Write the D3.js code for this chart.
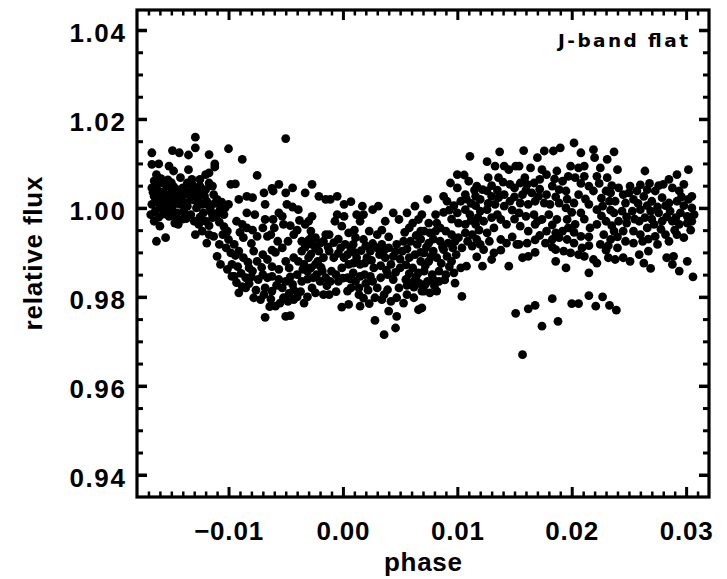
<!DOCTYPE html>
<html><head><meta charset="utf-8">
<script src="https://cdn.jsdelivr.net/npm/d3@7"></script>
<style>html,body{margin:0;padding:0;background:#fff;} svg{display:block;}</style>
</head><body>
<svg id="c" width="727" height="579"></svg>
<script>
// ---- chart text / ticks ----
const xTickValues = [-0.01, 0.00, 0.01, 0.02, 0.03];
const xTickLabels = ["\u22120.01", "0.00", "0.01", "0.02", "0.03"];
const yTickValues = [0.94, 0.96, 0.98, 1.00, 1.02, 1.04];
const yTickLabels = ["0.94", "0.96", "0.98", "1.00", "1.02", "1.04"];
const xDomain = [-0.018, 0.032];
const yDomain = [0.935, 1.0445];
const xTitle = "phase";
const yTitle = "relative flux";
const panelLabel = "J-band flat";

// ---- data: [phase, relative flux] ----
const ptsPre = [
[-0.0129,1.0159],[-0.0167,1.0124],[-0.0149,1.0129],[-0.0143,1.0124],[-0.0135,1.0119],[-0.0129,1.0135],[-0.0117,1.0120],[-0.0100,1.0133],
[-0.0167,1.0098],[-0.0161,1.0099],[-0.0152,1.0094],[-0.0148,1.0083],[-0.0135,1.0086],[-0.0112,1.0099],[-0.0112,1.0092],[-0.0163,1.0075],
[-0.0142,1.0068],[-0.0132,1.0064],[-0.0125,1.0064],[-0.0120,1.0075],[-0.0117,1.0079],[-0.0098,1.0053],[-0.0167,1.0045],[-0.0163,1.0053],
[-0.0158,1.0056],[-0.0154,1.0049],[-0.0149,1.0038],[-0.0145,1.0041],[-0.0139,1.0030],[-0.0165,1.0026],[-0.0160,1.0030],[-0.0155,1.0023],
[-0.0151,1.0015],[-0.0147,1.0023],[-0.0142,1.0008],[-0.0136,1.0004],[-0.0167,1.0008],[-0.0164,0.9993],[-0.0160,1.0000],[-0.0154,0.9996],
[-0.0149,1.0004],[-0.0145,0.9989],[-0.0139,0.9993],[-0.0133,1.0026],[-0.0129,1.0038],[-0.0125,1.0049],[-0.0120,1.0041],[-0.0117,1.0056],
[-0.0114,1.0049],[-0.0113,1.0030],[-0.0119,1.0015],[-0.0123,1.0008],[-0.0128,1.0000],[-0.0122,0.9989],[-0.0116,1.0000],[-0.0110,1.0019],
[-0.0107,1.0004],[-0.0103,1.0000],[-0.0100,1.0008],[-0.0110,0.9985],[-0.0114,0.9978],[-0.0120,0.9970],[-0.0126,0.9963],[-0.0130,0.9970],
[-0.0123,0.9948],[-0.0117,0.9940],[-0.0113,0.9936],[-0.0129,0.9940],[-0.0119,0.9921],[-0.0101,0.9948],[-0.0100,0.9929],[-0.0098,0.9899],
[-0.0097,0.9873],[-0.0110,0.9891],[-0.0107,0.9873],[-0.0097,0.9846],[-0.0160,0.9959],[-0.0163,0.9925],[-0.0155,0.9933],[-0.0152,0.9981],
[-0.0147,0.9966],[-0.0144,0.9963],
[-0.0166,1.0035],[-0.0162,1.0040],[-0.0157,1.0036],[-0.0152,1.0030],[-0.0158,1.0016],[-0.0163,1.0014],[-0.0156,1.0008],[-0.0152,1.0003],
[-0.0146,1.0010],[-0.0141,1.0018],[-0.0137,1.0012],[-0.0144,1.0031],[-0.0148,1.0048],[-0.0153,1.0063],[-0.0159,1.0066],[-0.0165,1.0061],
[-0.0150,1.0057],[-0.0140,1.0045],[-0.0135,1.0037],[-0.0131,1.0018],[-0.0126,1.0024],[-0.0121,1.0027],[-0.0124,1.0040],[-0.0131,1.0050],
[-0.0136,1.0056],[-0.0127,1.0014],[-0.0118,1.0007],[-0.0112,1.0010],[-0.0106,1.0013],[-0.0108,0.9993],[-0.0104,0.9985],[-0.0115,0.9990],
[-0.0125,0.9979],[-0.0133,0.9985],[-0.0137,0.9976],[-0.0117,0.9960],[-0.0108,0.9968],[-0.0104,0.9958],[-0.0168,0.9985],[-0.0161,0.9979],
[-0.0157,0.9986],[-0.0150,0.9988],[-0.0146,0.9979],[-0.0165,0.9970],[-0.0140,0.9975],[-0.0105,0.9940],[-0.0108,0.9918],[-0.0102,0.9910],
[-0.0094,0.9893],[-0.0101,0.9862]
];
const ptsIngress = [
[-0.0050,1.0156],[-0.0088,1.0109],[-0.0075,1.0073],[-0.0094,1.0054],[-0.0056,1.0053],[-0.0062,1.0044],[-0.0061,1.0038],[-0.0044,1.0045],
[-0.0027,1.0053],[-0.0050,1.0034],[-0.0069,1.0034],[-0.0084,1.0026],[-0.0079,1.0023],[-0.0091,1.0019],[-0.0033,1.0034],[-0.0021,1.0026],
[-0.0015,1.0019],[-0.0068,1.0008],[-0.0049,1.0008],[-0.0044,1.0002],[-0.0039,0.9996],[-0.0084,0.9989],[-0.0077,0.9985],[-0.0056,0.9989],
[-0.0053,0.9981],[-0.0068,0.9974],[-0.0061,0.9974],[-0.0027,0.9981],[-0.0030,0.9970],[-0.0093,0.9970],[-0.0088,0.9963],[-0.0084,0.9955],
[-0.0052,0.9963],[-0.0043,0.9940],[-0.0033,0.9963],[-0.0028,0.9948],[-0.0024,0.9933],[-0.0020,0.9921],[-0.0027,0.9918],[-0.0031,0.9925],
[-0.0036,0.9903],[-0.0030,0.9888],[-0.0024,0.9873],[-0.0018,0.9858],[-0.0026,0.9843],[-0.0031,0.9858],[-0.0015,0.9940],[-0.0087,0.9933],
[-0.0075,0.9936],[-0.0066,0.9936],[-0.0063,0.9940],[-0.0095,0.9918],[-0.0091,0.9903],[-0.0078,0.9903],[-0.0059,0.9900],[-0.0066,0.9884],
[-0.0075,0.9880],[-0.0087,0.9888],[-0.0082,0.9865],[-0.0079,0.9858],[-0.0050,0.9880],[-0.0047,0.9865],[-0.0043,0.9888],[-0.0095,0.9846],
[-0.0085,0.9843],[-0.0074,0.9839],[-0.0066,0.9843],[-0.0062,0.9846],[-0.0056,0.9839],[-0.0050,0.9835],[-0.0053,0.9820],[-0.0068,0.9820],
[-0.0062,0.9813],[-0.0069,0.9805],[-0.0044,0.9828],[-0.0043,0.9816],[-0.0036,0.9835],[-0.0027,0.9820],[-0.0024,0.9809],[-0.0091,0.9809],
[-0.0085,0.9820],[-0.0078,0.9798],[-0.0072,0.9794],[-0.0052,0.9798],[-0.0043,0.9794],[-0.0059,0.9779],[-0.0055,0.9786],[-0.0034,0.9786],
[-0.0017,0.9805],[-0.0068,0.9754],[-0.0050,0.9756],[-0.0046,0.9758],[-0.0021,0.9903],[-0.0017,0.9888],[-0.0023,0.9850],[-0.0015,0.9843],
[-0.0034,0.9873],
[-0.0040,0.9950],[-0.0036,0.9925],[-0.0033,0.9912],[-0.0039,0.9880],[-0.0035,0.9862],[-0.0028,0.9896],[-0.0022,0.9880],[-0.0019,0.9866],
[-0.0028,0.9865],[-0.0031,0.9840],[-0.0020,0.9835],[-0.0014,0.9825],[-0.0029,0.9930],[-0.0017,0.9925],[-0.0013,0.9912],[-0.0024,0.9910],
[-0.0040,0.9850],[-0.0046,0.9845],[-0.0056,0.9862],[-0.0062,0.9868],[-0.0071,0.9866],[-0.0070,0.9850],[-0.0080,0.9845],[-0.0089,0.9853],
[-0.0092,0.9868],[-0.0083,0.9878],[-0.0070,0.9895],[-0.0062,0.9905],[-0.0053,0.9910],[-0.0048,0.9925],[-0.0057,0.9925],[-0.0080,0.9920],
[-0.0090,0.9945],[-0.0079,0.9950],[-0.0070,0.9955],[-0.0060,0.9955],[-0.0046,0.9960],[-0.0038,0.9972],[-0.0058,0.9826],[-0.0047,0.9808],
[-0.0037,0.9812],[-0.0031,0.9800],[-0.0063,0.9795],[-0.0082,0.9830],[-0.0088,0.9823],[-0.0093,0.9832],[-0.0076,0.9815],[-0.0048,0.9790],
[-0.0064,0.9778],[-0.0040,0.9800]
];
const ptsMid = [
[-0.0011,1.0019],[-0.0005,1.0026],[0.0001,1.0008],[0.0007,1.0014],[-0.0005,0.9985],[0.0001,0.9981],[-0.0007,0.9970],[-0.0001,0.9959],
[0.0017,1.0004],[0.0012,0.9985],[0.0018,0.9985],[0.0026,0.9996],[0.0031,1.0004],[0.0015,0.9970],[0.0037,0.9970],[0.0044,0.9989],
[0.0049,0.9974],[0.0056,0.9989],[0.0063,1.0004],[0.0061,0.9966],[0.0066,0.9974],[-0.0012,0.9940],[0.0005,0.9944],[0.0011,0.9933],
[0.0023,0.9948],[0.0018,0.9929],[0.0068,0.9948],[-0.0012,0.9903],[-0.0008,0.9888],[-0.0010,0.9858],[-0.0011,0.9835],[-0.0002,0.9910],
[0.0002,0.9918],[0.0007,0.9906],[0.0001,0.9888],[-0.0001,0.9865],[0.0005,0.9873],[0.0009,0.9854],[-0.0004,0.9835],[0.0004,0.9843],
[0.0011,0.9835],[0.0015,0.9846],[0.0012,0.9888],[0.0015,0.9873],[0.0021,0.9888],[0.0024,0.9903],[0.0030,0.9910],[0.0034,0.9918],
[0.0040,0.9910],[0.0027,0.9865],[0.0024,0.9846],[0.0037,0.9888],[0.0042,0.9873],[0.0044,0.9891],[0.0047,0.9918],[0.0053,0.9925],
[0.0059,0.9925],[0.0065,0.9918],[0.0052,0.9903],[0.0058,0.9888],[0.0063,0.9895],[0.0068,0.9880],[0.0050,0.9865],[0.0061,0.9865],
[0.0066,0.9854],[0.0033,0.9843],[0.0039,0.9850],[0.0044,0.9839],[0.0055,0.9839],[0.0062,0.9835],[0.0030,0.9820],[0.0039,0.9816],
[0.0049,0.9820],[0.0007,0.9820],[0.0004,0.9813],[-0.0012,0.9805],[0.0028,0.9798],[0.0034,0.9794],[0.0042,0.9790],[0.0047,0.9798],
[0.0053,0.9786],[0.0062,0.9798],[0.0069,0.9813],[-0.0001,0.9777],[0.0005,0.9783],[0.0015,0.9779],[0.0023,0.9785],[0.0040,0.9768],
[0.0047,0.9756],[0.0066,0.9771],[0.0028,0.9747],[0.0046,0.9730],[0.0036,0.9715],
[-0.0008,0.9922],[-0.0004,0.9898],[0.0004,0.9895],[0.0010,0.9900],[0.0016,0.9904],[0.0020,0.9915],[0.0026,0.9920],[0.0009,0.9876],
[0.0019,0.9876],[0.0025,0.9882],[0.0032,0.9895],[0.0036,0.9905],[0.0046,0.9902],[0.0050,0.9885],[0.0055,0.9872],[0.0033,0.9870],
[0.0038,0.9860],[0.0046,0.9855],[0.0058,0.9852],[0.0064,0.9845],[-0.0006,0.9850],[0.0000,0.9842],[0.0007,0.9840],[0.0019,0.9850],
[0.0020,0.9830],[0.0026,0.9835],[0.0014,0.9820],[0.0022,0.9815],[0.0056,0.9826],[0.0062,0.9822],[0.0067,0.9830],[0.0068,0.9900],
[0.0056,0.9908],[0.0068,0.9930],[0.0064,0.9938],[0.0040,0.9935],[0.0030,0.9940],[-0.0004,0.9930],[0.0009,0.9918],[0.0014,0.9805],
[0.0018,0.9797],[0.0056,0.9805],[0.0036,0.9805],[-0.0006,0.9812],[0.0010,0.9950],[0.0034,0.9950],[0.0054,0.9945],[0.0058,0.9955]
];
const ptsEgress = [
[0.0111,1.0116],[0.0137,1.0126],[0.0126,1.0104],[0.0133,1.0094],[0.0141,1.0094],[0.0145,1.0086],[0.0151,1.0094],[0.0100,1.0075],
[0.0106,1.0074],[0.0094,1.0056],[0.0127,1.0068],[0.0136,1.0068],[0.0146,1.0053],[0.0117,1.0049],[0.0122,1.0041],[0.0126,1.0038],
[0.0107,1.0030],[0.0074,1.0019],[0.0088,1.0026],[0.0091,1.0015],[0.0103,1.0015],[0.0116,1.0026],[0.0120,1.0019],[0.0130,1.0026],
[0.0136,1.0023],[0.0141,1.0030],[0.0146,1.0015],[0.0133,1.0008],[0.0141,1.0004],[0.0081,0.9985],[0.0069,0.9985],[0.0100,0.9989],
[0.0107,0.9996],[0.0111,0.9985],[0.0120,0.9993],[0.0126,0.9996],[0.0130,0.9978],[0.0138,0.9974],[0.0143,0.9963],[0.0075,0.9966],
[0.0082,0.9966],[0.0101,0.9966],[0.0107,0.9963],[0.0116,0.9963],[0.0123,0.9970],[0.0071,0.9948],[0.0076,0.9944],[0.0081,0.9948],
[0.0090,0.9948],[0.0095,0.9940],[0.0101,0.9933],[0.0107,0.9944],[0.0113,0.9940],[0.0117,0.9929],[0.0126,0.9944],[0.0138,0.9929],
[0.0143,0.9921],[0.0152,0.9918],[0.0075,0.9921],[0.0085,0.9925],[0.0092,0.9921],[0.0098,0.9925],[0.0104,0.9910],[0.0113,0.9914],
[0.0123,0.9906],[0.0132,0.9899],[0.0071,0.9899],[0.0079,0.9903],[0.0088,0.9906],[0.0075,0.9880],[0.0082,0.9888],[0.0091,0.9891],
[0.0095,0.9880],[0.0103,0.9865],[0.0108,0.9869],[0.0122,0.9869],[0.0130,0.9884],[0.0145,0.9869],[0.0071,0.9858],[0.0078,0.9850],
[0.0084,0.9858],[0.0090,0.9850],[0.0097,0.9854],[0.0098,0.9831],[0.0074,0.9835],[0.0079,0.9839],[0.0084,0.9835],[0.0071,0.9813],
[0.0076,0.9809],[0.0082,0.9813],[0.0104,0.9801],[0.0069,0.9775],
[0.0100,1.0045],[0.0110,1.0060],[0.0115,1.0040],[0.0130,1.0050],[0.0135,1.0040],[0.0140,1.0058],[0.0150,1.0045],[0.0150,1.0025],
[0.0112,1.0010],[0.0108,1.0020],[0.0116,1.0005],[0.0127,1.0010],[0.0097,1.0005],[0.0093,0.9995],[0.0088,0.9990],[0.0095,0.9975],
[0.0112,0.9972],[0.0118,0.9978],[0.0135,0.9985],[0.0148,0.9995],[0.0150,0.9975],[0.0132,0.9955],[0.0119,0.9950],[0.0085,0.9955],
[0.0079,0.9930],[0.0087,0.9912],[0.0096,0.9910],[0.0109,0.9925],[0.0120,0.9918],[0.0128,0.9925],[0.0073,0.9912],[0.0077,0.9890],
[0.0086,0.9875],[0.0093,0.9868],[0.0099,0.9895],[0.0072,0.9870],[0.0080,0.9825],[0.0089,0.9838],[0.0072,0.9828],[0.0117,0.9890],
[0.0138,0.9905],[0.0148,0.9935]
];
const ptsPost = [
[0.0202,1.0146],[0.0158,1.0129],[0.0176,1.0128],[0.0184,1.0128],[0.0190,1.0135],[0.0170,1.0113],[0.0208,1.0124],[0.0219,1.0131],
[0.0220,1.0113],[0.0231,1.0109],[0.0154,1.0094],[0.0164,1.0090],[0.0174,1.0086],[0.0178,1.0075],[0.0187,1.0083],[0.0199,1.0094],
[0.0206,1.0090],[0.0211,1.0094],[0.0197,1.0071],[0.0203,1.0068],[0.0211,1.0071],[0.0225,1.0090],[0.0222,1.0071],[0.0231,1.0068],
[0.0155,1.0056],[0.0161,1.0053],[0.0167,1.0056],[0.0183,1.0049],[0.0189,1.0041],[0.0195,1.0038],[0.0215,1.0049],[0.0219,1.0038],
[0.0230,1.0038],[0.0234,1.0034],[0.0157,1.0030],[0.0165,1.0034],[0.0171,1.0026],[0.0155,1.0011],[0.0162,1.0008],[0.0176,1.0011],
[0.0181,1.0008],[0.0189,1.0011],[0.0202,1.0011],[0.0208,0.9989],[0.0215,1.0008],[0.0222,0.9996],[0.0227,1.0004],[0.0154,0.9989],
[0.0160,0.9981],[0.0167,0.9985],[0.0174,0.9974],[0.0180,0.9985],[0.0187,0.9974],[0.0196,0.9974],[0.0203,0.9963],[0.0216,0.9955],
[0.0222,0.9963],[0.0230,0.9970],[0.0155,0.9959],[0.0162,0.9948],[0.0168,0.9963],[0.0178,0.9948],[0.0186,0.9944],[0.0192,0.9948],
[0.0197,0.9955],[0.0208,0.9936],[0.0154,0.9918],[0.0161,0.9921],[0.0177,0.9921],[0.0183,0.9929],[0.0189,0.9933],[0.0196,0.9929],
[0.0202,0.9921],[0.0209,0.9910],[0.0225,0.9918],[0.0234,0.9929],[0.0186,0.9906],[0.0193,0.9903],[0.0199,0.9899],[0.0206,0.9895],
[0.0211,0.9891],[0.0157,0.9888],[0.0162,0.9891],[0.0186,0.9880],[0.0195,0.9865],[0.0219,0.9884],[0.0222,0.9876],[0.0232,0.9888],
[0.0215,0.9854],
[0.0159,1.0068],[0.0172,1.0064],[0.0185,1.0065],[0.0192,1.0060],[0.0208,1.0055],[0.0224,1.0055],[0.0235,1.0050],[0.0160,1.0040],
[0.0172,1.0042],[0.0178,1.0030],[0.0186,1.0025],[0.0196,1.0020],[0.0206,1.0030],[0.0212,1.0020],[0.0226,1.0022],[0.0233,1.0015],
[0.0168,1.0015],[0.0195,1.0000],[0.0200,0.9990],[0.0234,0.9995],[0.0170,0.9970],[0.0183,0.9962],[0.0211,0.9975],[0.0226,0.9982],
[0.0235,0.9960],[0.0172,0.9938],[0.0202,0.9945],[0.0215,0.9935],[0.0228,0.9940],[0.0168,0.9928],[0.0183,0.9912],[0.0215,0.9915],
[0.0230,0.9905],[0.0168,0.9900]
];
const ptsLow = [
[0.0151,0.9763],[0.0162,0.9773],[0.0168,0.9781],[0.0183,0.9796],[0.0200,0.9785],[0.0206,0.9785],[0.0215,0.9803],[0.0221,0.9779],
[0.0227,0.9800],[0.0233,0.9781],[0.0239,0.9770],[0.0174,0.9734],[0.0188,0.9745],[0.0157,0.9670]
];
const ptsTail = [
[0.0237,1.0126],[0.0240,1.0086],[0.0264,1.0083],[0.0302,1.0086],[0.0292,1.0075],[0.0285,1.0064],[0.0280,1.0053],[0.0298,1.0053],
[0.0241,1.0045],[0.0251,1.0049],[0.0250,1.0034],[0.0257,1.0038],[0.0266,1.0041],[0.0273,1.0038],[0.0288,1.0045],[0.0294,1.0038],
[0.0305,1.0026],[0.0302,1.0019],[0.0238,1.0015],[0.0247,1.0011],[0.0254,1.0019],[0.0263,1.0026],[0.0270,1.0015],[0.0279,1.0023],
[0.0285,1.0011],[0.0292,1.0015],[0.0305,1.0000],[0.0307,0.9985],[0.0237,0.9989],[0.0244,0.9993],[0.0253,0.9993],[0.0260,0.9996],
[0.0269,0.9993],[0.0276,0.9989],[0.0286,0.9993],[0.0295,0.9989],[0.0301,0.9981],[0.0241,0.9970],[0.0248,0.9966],[0.0259,0.9970],
[0.0264,0.9978],[0.0272,0.9963],[0.0279,0.9970],[0.0288,0.9970],[0.0294,0.9963],[0.0301,0.9966],[0.0237,0.9948],[0.0245,0.9948],
[0.0254,0.9948],[0.0260,0.9940],[0.0273,0.9936],[0.0282,0.9940],[0.0298,0.9933],[0.0247,0.9925],[0.0254,0.9921],[0.0262,0.9925],
[0.0285,0.9925],[0.0267,0.9903],[0.0259,0.9895],[0.0238,0.9884],[0.0245,0.9888],[0.0251,0.9880],[0.0263,0.9876],[0.0269,0.9864],
[0.0283,0.9888],[0.0289,0.9891],[0.0288,0.9873],[0.0294,0.9858],[0.0301,0.9880],[0.0306,0.9845],
[0.0245,1.0030],[0.0260,1.0052],[0.0268,1.0055],[0.0276,1.0050],[0.0296,1.0025],[0.0258,1.0010],[0.0266,1.0005],[0.0275,1.0002],
[0.0282,1.0005],[0.0298,1.0005],[0.0248,0.9980],[0.0255,0.9975],[0.0270,0.9975],[0.0283,0.9980],[0.0291,0.9978],[0.0305,0.9970],
[0.0266,0.9955],[0.0278,0.9952],[0.0290,0.9950],[0.0304,0.9950],[0.0240,0.9935],[0.0267,0.9930],[0.0292,0.9940],[0.0240,0.9910],
[0.0275,0.9918],[0.0232,0.9915]
];

const allPts = [].concat(ptsPre, ptsIngress, ptsMid, ptsEgress, ptsPost, ptsLow, ptsTail);

// ---- drawing ----
const L = 137, R = 709, T = 10, B = 497;
const svg = d3.select("#c");
const x = d3.scaleLinear().domain(xDomain).range([L, R]);
const y = d3.scaleLinear().domain(yDomain).range([B, T]);

const FONT = "'Liberation Sans', Arial, Helvetica, sans-serif";

// points
svg.append("g").selectAll("circle").data(allPts).join("circle")
  .attr("cx", d => x(d[0])).attr("cy", d => y(d[1])).attr("r", 4.4).attr("fill", "#000");

const xMinor = d3.range(-17, 32).map(v => v / 1000).filter(v => !xTickValues.some(t => Math.abs(t - v) < 1e-9));
const yMinor = d3.range(189, 209).map(v => v * 0.005).filter(v => v > yDomain[0] + 1e-6 && v < yDomain[1] - 1e-6 && !yTickValues.some(t => Math.abs(t - v) < 1e-9));

function styleAxis(g, w) {
  g.select(".domain").remove();
  g.selectAll(".tick line").attr("stroke", "#000").attr("stroke-width", w);
}

// bottom
svg.append("g").attr("transform", `translate(0,${B})`)
  .call(d3.axisBottom(x).tickValues(xMinor).tickSizeInner(-5.5).tickSizeOuter(0).tickFormat(""))
  .call(g => styleAxis(g, 2.5));
const gxb = svg.append("g").attr("transform", `translate(0,${B})`)
  .call(d3.axisBottom(x).tickValues(xTickValues).tickSizeInner(-10).tickSizeOuter(0).tickPadding(25)
    .tickFormat((d, i) => xTickLabels[i]))
  .call(g => styleAxis(g, 3));
gxb.selectAll("text").attr("font-family", FONT).attr("font-weight", "bold").attr("font-size", 26)
  .attr("fill", "#000").attr("letter-spacing", 0.8);
// top
svg.append("g").attr("transform", `translate(0,${T})`)
  .call(d3.axisTop(x).tickValues(xMinor).tickSizeInner(-5.5).tickSizeOuter(0).tickFormat(""))
  .call(g => styleAxis(g, 2.5));
svg.append("g").attr("transform", `translate(0,${T})`)
  .call(d3.axisTop(x).tickValues(xTickValues).tickSizeInner(-10).tickSizeOuter(0).tickFormat(""))
  .call(g => styleAxis(g, 3));
// left
svg.append("g").attr("transform", `translate(${L},0)`)
  .call(d3.axisLeft(y).tickValues(yMinor).tickSizeInner(-6).tickSizeOuter(0).tickFormat(""))
  .call(g => styleAxis(g, 3));
const gyl = svg.append("g").attr("transform", `translate(${L},0)`)
  .call(d3.axisLeft(y).tickValues(yTickValues).tickSizeInner(-10).tickSizeOuter(0).tickPadding(10.5)
    .tickFormat((d, i) => yTickLabels[i]))
  .call(g => styleAxis(g, 3.5));
gyl.selectAll("text").attr("font-family", FONT).attr("font-weight", "bold").attr("font-size", 26)
  .attr("fill", "#000").attr("dy", "0.46em").attr("letter-spacing", 1.6);
// right
svg.append("g").attr("transform", `translate(${R},0)`)
  .call(d3.axisRight(y).tickValues(yMinor).tickSizeInner(-6).tickSizeOuter(0).tickFormat(""))
  .call(g => styleAxis(g, 3));
svg.append("g").attr("transform", `translate(${R},0)`)
  .call(d3.axisRight(y).tickValues(yTickValues).tickSizeInner(-10).tickSizeOuter(0).tickFormat(""))
  .call(g => styleAxis(g, 3.5));

// frame
svg.append("rect").attr("x", L).attr("y", T).attr("width", R - L).attr("height", B - T)
  .attr("fill", "none").attr("stroke", "#000").attr("stroke-width", 3.2);

// titles
svg.append("text").attr("x", (L + R) / 2).attr("y", 571).attr("text-anchor", "middle")
  .attr("font-family", FONT).attr("font-weight", "bold").attr("font-size", 26)
  .attr("textLength", 78).attr("lengthAdjust", "spacing").text(xTitle);
svg.append("text").attr("transform", `translate(42,${(T + B) / 2}) rotate(-90)`).attr("text-anchor", "middle")
  .attr("font-family", FONT).attr("font-weight", "bold").attr("font-size", 26)
  .attr("textLength", 154).attr("lengthAdjust", "spacing").text(yTitle);
svg.append("text").attr("x", 688).attr("y", 47).attr("text-anchor", "end")
  .attr("font-family", "'DejaVu Sans', Verdana, sans-serif").attr("font-weight", 600).attr("font-size", 18.5)
  .attr("textLength", 130).attr("lengthAdjust", "spacing").text(panelLabel);
</script>
</body></html>
